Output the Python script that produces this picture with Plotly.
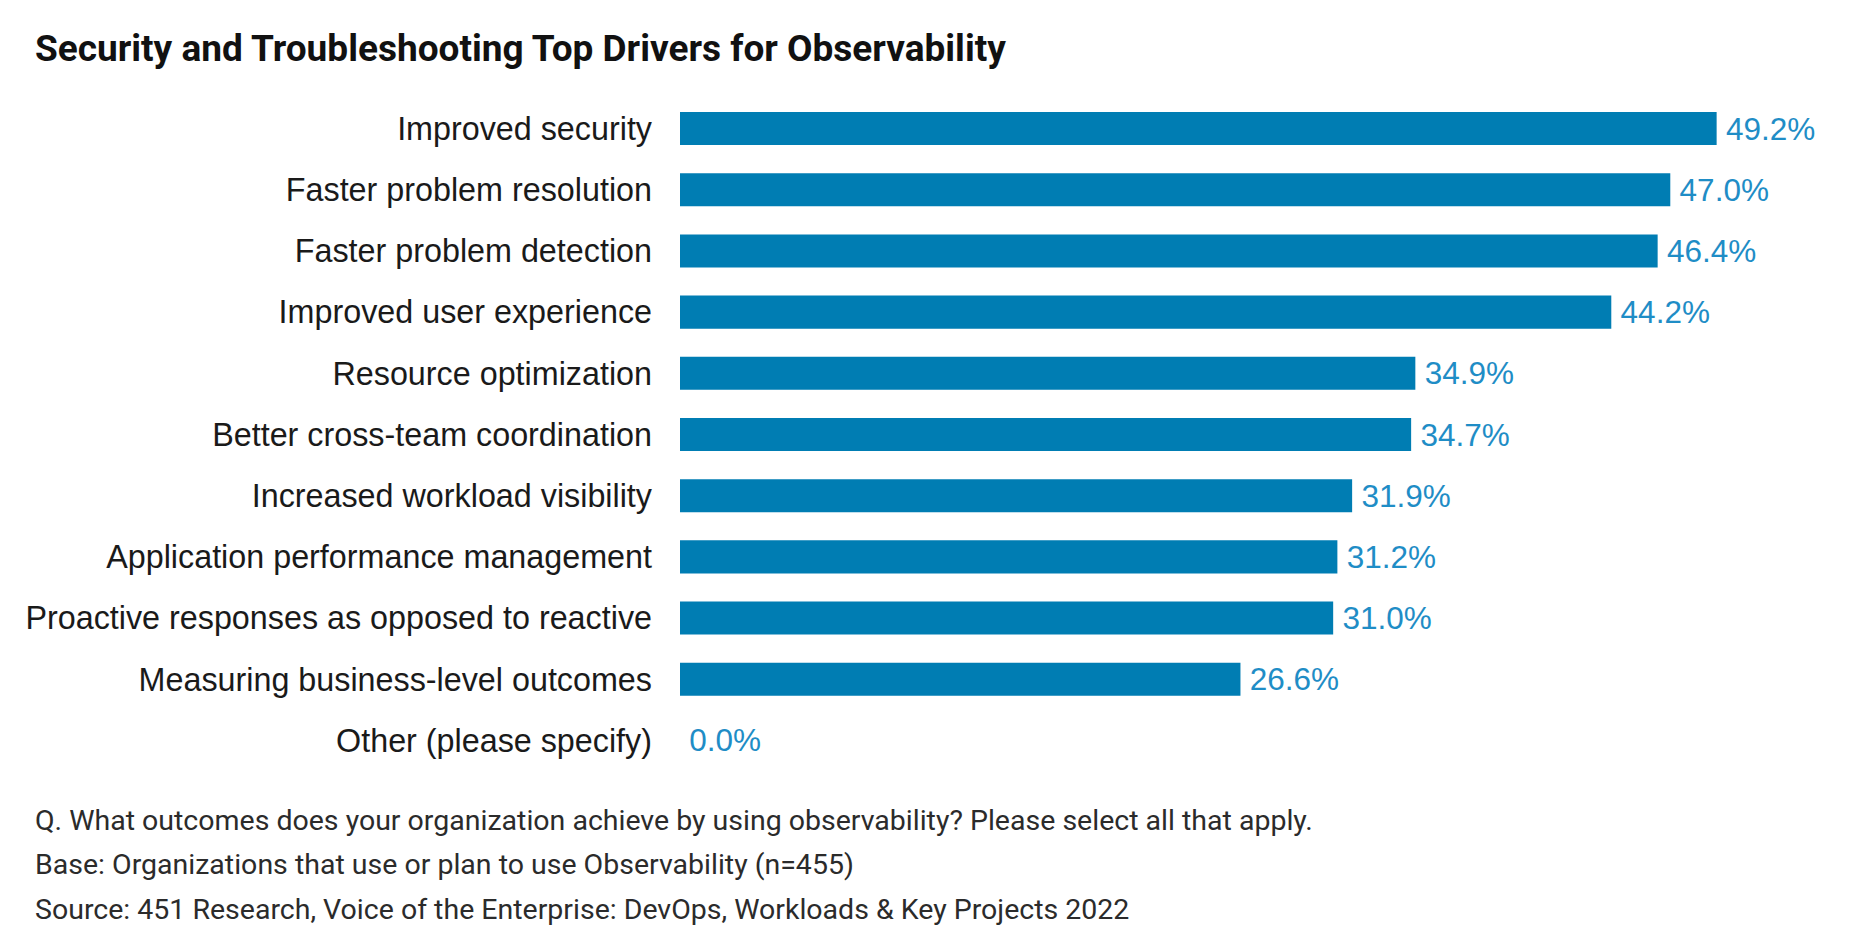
import plotly.graph_objects as go

categories = [
    "Improved security",
    "Faster problem resolution",
    "Faster problem detection",
    "Improved user experience",
    "Resource optimization",
    "Better cross-team coordination",
    "Increased workload visibility",
    "Application performance management",
    "Proactive responses as opposed to reactive",
    "Measuring business-level outcomes",
    "Other (please specify)",
]
values = [49.2, 47.0, 46.4, 44.2, 34.9, 34.7, 31.9, 31.2, 31.0, 26.6, 0.0]
value_labels = [f"\u2009{v:.1f}%" for v in values]

title_text = "Security and Troubleshooting Top Drivers for Observability"
notes = [
    "Q. What outcomes does your organization achieve by using observability? Please select all that apply.",
    "Base: Organizations that use or plan to use Observability (n=455)",
    "Source: 451 Research, Voice of the Enterprise: DevOps, Workloads & Key Projects 2022",
]

W, H = 1864, 940
ML, MR, MT, MB = 680, 48, 98, 169
px_per_unit = 21.07
plot_w = W - ML - MR
plot_h = H - MT - MB
xmax = plot_w / px_per_unit

fig = go.Figure(
    go.Bar(
        x=values,
        y=categories,
        orientation="h",
        marker=dict(color="#007db3", line=dict(width=0)),
        text=value_labels,
        textposition="outside",
        constraintext="none",
        textfont=dict(family="Liberation Sans, Arial, sans-serif", size=31.5, color="#1f8dc6"),
        cliponaxis=False,
        width=0.54,
    )
)

def px_to_paper_x(px):
    return (px - ML) / plot_w

def px_to_paper_y(py):
    return (H - MB - py) / plot_h

annotations = [
    dict(
        text=f"<b>{title_text}</b>",
        xref="paper", yref="paper",
        x=px_to_paper_x(33), y=px_to_paper_y(48),
        xanchor="left", yanchor="middle",
        showarrow=False,
        font=dict(family="Roboto, sans-serif", size=37, color="#111111"),
    )
]
for i, line in enumerate(notes):
    annotations.append(
        dict(
            text=line,
            xref="paper", yref="paper",
            x=px_to_paper_x(33), y=px_to_paper_y(820 + i * 44.5),
            xanchor="left", yanchor="middle",
            showarrow=False,
            font=dict(family="Roboto, sans-serif", size=28.5, color="#2b2b2b"),
        )
    )

fig.update_layout(
    width=W, height=H,
    margin=dict(l=ML, r=MR, t=MT, b=MB, pad=0),
    paper_bgcolor="white",
    plot_bgcolor="white",
    showlegend=False,
    annotations=annotations,
    xaxis=dict(range=[0, xmax], visible=False, fixedrange=True),
    yaxis=dict(
        autorange="reversed",
        showgrid=False,
        zeroline=False,
        showline=False,
        ticks="",
        ticklabelstandoff=27,
        tickfont=dict(family="Liberation Sans, Arial, sans-serif", size=32.3, color="#1a1a1a"),
        fixedrange=True,
    ),
)

fig.write_html("out.html")
